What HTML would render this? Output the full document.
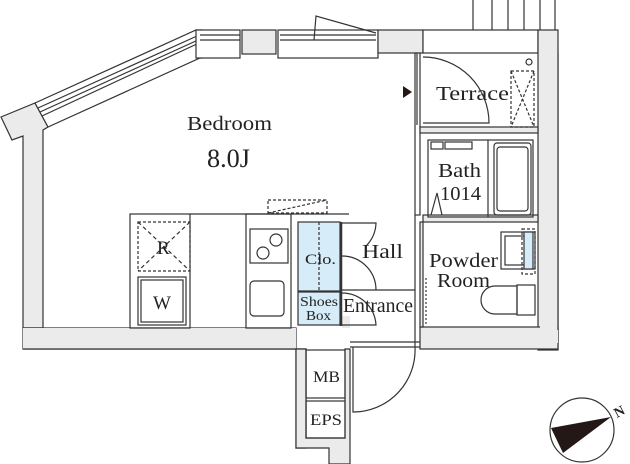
<!DOCTYPE html>
<html><head><meta charset="utf-8"><style>
html,body{margin:0;padding:0;background:#fff;}
svg{display:block;}
text{font-family:"Liberation Serif",serif;fill:#222;}
</style></head><body>
<svg width="630" height="464" viewBox="0 0 630 464" xmlns="http://www.w3.org/2000/svg">
<g stroke="#333" stroke-width="1.2" fill="#ebebeb">
<polygon points="1,117 35,103 48,127 43,130 43,328 23,328 23,136 12,140"/>
<polygon points="23,328 296,328 296,448 306,448 306,349 23,349" />
<rect x="23" y="328" width="273" height="21" stroke="none"/>
<line x1="23" y1="349" x2="296" y2="349"/>
<polygon points="296,349 306,349 306,438 345,438 345,349 350,349 350,464 329,464 329,448 296,448"/>
<polygon points="35,103 196,30 202,30 202,58 200,58 48,127" fill="#fff"/>
<line x1="38" y1="108" x2="197" y2="36"/>
<line x1="40" y1="112" x2="198" y2="40"/>
<line x1="42" y1="116" x2="199" y2="43"/>
<rect x="196" y="30" width="44" height="28" fill="#fff"/>
<line x1="200" y1="35" x2="240" y2="35"/><line x1="200" y1="40" x2="240" y2="40"/>
<rect x="242" y="30" width="34" height="24"/>
<rect x="278" y="30" width="100" height="28" fill="#fff"/>
<line x1="280" y1="35" x2="376" y2="35"/><line x1="280" y1="40" x2="376" y2="40"/>
<polyline points="314,40 316,16 376,33" fill="none"/>
<rect x="378" y="30" width="45" height="23"/>
<rect x="423" y="30" width="115" height="23" fill="#fff"/>
<line x1="473" y1="0" x2="473" y2="30"/><line x1="492" y1="0" x2="492" y2="30"/>
<line x1="508" y1="0" x2="508" y2="30"/><line x1="524" y1="0" x2="524" y2="30"/>
<line x1="540" y1="0" x2="540" y2="30"/><line x1="555" y1="0" x2="555" y2="30"/>
<rect x="538" y="30" width="20" height="320"/>
<rect x="420" y="327" width="138" height="22"/>
<rect x="540" y="53" width="18" height="290" stroke="none"/>
<line x1="558" y1="53" x2="558" y2="330"/>
<rect x="415" y="53" width="5" height="162" fill="#fff"/>
<line x1="417" y1="53" x2="417" y2="125"/>
<rect x="420" y="127" width="118" height="6"/>
<rect x="423" y="215" width="115" height="7"/>
<rect x="420" y="222" width="3" height="105"/>
<rect x="342" y="316" width="8" height="12" stroke="none"/>
</g>
<g stroke="#333" stroke-width="1.2" fill="none">
<path d="M423,57 A66,66 0 0 1 489,123 L423,123"/>
<rect x="511" y="71" width="23" height="56" stroke-dasharray="3,2"/>
<polyline points="511,71 534,127" stroke-dasharray="3,2"/><polyline points="534,71 511,127" stroke-dasharray="3,2"/>
<circle cx="529" cy="62" r="3"/>
<rect x="428" y="140" width="105" height="77"/>
<rect x="494" y="143" width="37" height="72" rx="3"/>
<rect x="497" y="147" width="31" height="64" rx="3"/>
<line x1="488" y1="140" x2="488" y2="217"/>
<rect x="431" y="142" width="12" height="7"/><rect x="445" y="142" width="27" height="7"/>
<polyline points="431,215 437,193 442,215"/>
<rect x="501" y="232" width="34" height="37"/>
<rect x="505" y="236" width="25" height="29"/>
<rect x="522" y="229" width="13" height="45" stroke-dasharray="3,2"/>
<rect x="524" y="232" width="9" height="37" fill="#d6ecf8"/>
<path d="M517,286 L495,286 A14,14 0 0 0 495,314 L517,314 Z"/>
<rect x="517" y="285" width="18" height="30"/>
<line x1="426" y1="278" x2="426" y2="325" stroke-dasharray="2,2"/>
<rect x="130" y="214" width="60" height="114"/>
<rect x="138" y="222" width="52" height="49" stroke-dasharray="3,2"/>
<line x1="138" y1="222" x2="190" y2="271" stroke-dasharray="4,3"/><line x1="190" y1="222" x2="138" y2="271" stroke-dasharray="4,3"/>
<rect x="138" y="277" width="48" height="48"/><rect x="141" y="280" width="42" height="42"/>
<line x1="190" y1="214" x2="349" y2="214"/>
<rect x="246" y="214" width="45" height="114"/>
<rect x="250" y="229" width="38" height="34"/>
<circle cx="263" cy="253" r="6"/><circle cx="276" cy="240" r="6"/>
<rect x="250" y="281" width="34" height="35" rx="4"/>
<polygon points="268,200 327,200 327,213 268,213" stroke-dasharray="3,2"/>
<line x1="268" y1="213" x2="327" y2="200" stroke-dasharray="3,2"/>
<rect x="298" y="222" width="42" height="69" fill="#d6ecf8"/>
<rect x="298" y="292" width="42" height="33" fill="#d6ecf8"/>
<line x1="319" y1="222" x2="319" y2="290" stroke-dasharray="3,2"/>
<line x1="341" y1="222" x2="341" y2="326" stroke-width="2.5"/>
<path d="M342,223 L376,223 A34,34 0 0 1 366,246"/>
<path d="M342,256 A34,34 0 0 1 376,290"/>
<line x1="341" y1="290" x2="415" y2="290"/>
<path d="M342,293 A34,34 0 0 1 376,325 L342,325"/>
<line x1="350" y1="342" x2="420" y2="342"/><line x1="350" y1="347" x2="420" y2="347"/>
<path d="M415,347 A62,62 0 0 1 353,412 L353,347"/>
<line x1="415" y1="215" x2="415" y2="347"/>
<rect x="306" y="350" width="39" height="48"/>
<rect x="306" y="401" width="39" height="37"/>
<circle cx="582" cy="430" r="32"/>
</g>
<polygon points="611,417 551,428 563,453" fill="#231815"/>
<text x="617" y="418" font-size="14" font-family="Liberation Sans" transform="rotate(-28 617 418)" font-weight="bold">N</text>
<polygon points="403,86 412,92 403,98" fill="#231815"/>
<g font-size="20" lengthAdjust="spacingAndGlyphs">
<text x="187" y="130" textLength="85" lengthAdjust="spacingAndGlyphs">Bedroom</text>
<text x="207" y="167" font-size="26" textLength="43" lengthAdjust="spacingAndGlyphs">8.0J</text>
<text x="436" y="100" textLength="73" lengthAdjust="spacingAndGlyphs">Terrace</text>
<text x="438" y="177" textLength="43" lengthAdjust="spacingAndGlyphs">Bath</text>
<text x="440" y="200" textLength="41" lengthAdjust="spacingAndGlyphs">1014</text>
<text x="429" y="267" textLength="69" lengthAdjust="spacingAndGlyphs">Powder</text>
<text x="437" y="287" textLength="53" lengthAdjust="spacingAndGlyphs">Room</text>
<text x="362" y="258" textLength="41" lengthAdjust="spacingAndGlyphs">Hall</text>
<text x="343" y="312" textLength="70" lengthAdjust="spacingAndGlyphs">Entrance</text>
<text x="157" y="254" font-size="19">R</text>
<text x="153" y="309" font-size="19">W</text>
<text x="305" y="264" font-size="15" textLength="31" lengthAdjust="spacingAndGlyphs">Clo.</text>
<text x="300" y="306" font-size="14" textLength="38" lengthAdjust="spacingAndGlyphs">Shoes</text>
<text x="306" y="320" font-size="14" textLength="25" lengthAdjust="spacingAndGlyphs">Box</text>
<text x="313" y="382" font-size="16" textLength="27" lengthAdjust="spacingAndGlyphs">MB</text>
<text x="310" y="425" font-size="16" textLength="32" lengthAdjust="spacingAndGlyphs">EPS</text>
</g>
</svg>
</body></html>
